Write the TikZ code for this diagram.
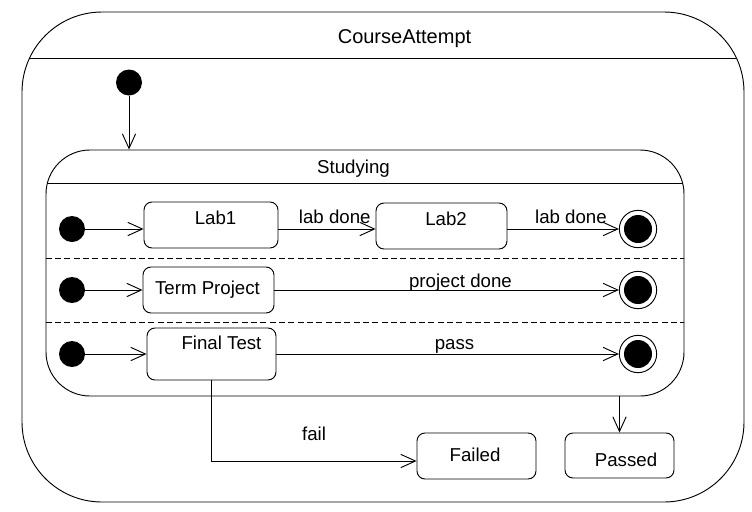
\documentclass[tikz,border=0pt]{standalone}
\usepackage{fontspec}
\setmainfont{Liberation Sans}
\usetikzlibrary{arrows.meta}

\tikzset{
    statebox/.style={draw,rounded corners=6pt,inner sep=0pt},
    initstate/.style={circle,fill=black,inner sep=0pt,minimum size=19.5pt},
    finalstate/.style={circle,draw,inner sep=0pt,minimum size=28pt,
        path picture={\fill (path picture bounding box.center) circle (10.5pt);}},
    translabel/.style={anchor=base,yshift=4.5pt}
}

\begin{document}
\begin{tikzpicture}[x=0.75pt,y=-0.75pt,line width=0.7pt,
        every node/.style={font=\fontsize{14}{16}\selectfont},
        >={Straight Barb[length=11pt,width=10pt]}]
    \useasboundingbox (0,0) rectangle (752,511);
    % composite states
    \node (course) [draw,rounded corners=60pt,minimum width=541.5pt,minimum height=367.5pt] at (383,257) {};
    \node (studying) [draw,rounded corners=33pt,minimum width=478.5pt,minimum height=184.5pt] at (365,273) {};
    \node (coursename) [anchor=base,font=\fontsize{15}{18}\selectfont] at (404.5,43) {CourseAttempt};
    \node (studyname) [anchor=base] at (353.5,173) {Studying};
    \draw (29.6,58) -- (736.4,58);
    \draw (47.4,183) -- (682.6,183);
    \draw [dash pattern=on 4.5pt off 2.5pt] (studying.west |- 0,258) -- (studying.east |- 0,258);
    \draw [dash pattern=on 4.5pt off 2.5pt] (studying.west |- 0,322) -- (studying.east |- 0,322);
    \begin{scope}[every node/.append style={initstate}]
        \node (start) at (129,82.5) {};
        \node (init1) at (72,229) {};
        \node (init2) at (72,290) {};
        \node (init3) at (72,354) {};
    \end{scope}
    \begin{scope}[every node/.append style={finalstate}]
        \node (final1) at (638,229) {};
        \node (final2) at (638,290) {};
        \node (final3) at (638,354) {};
    \end{scope}
    \node (lab1) [statebox,minimum width=100.5pt,minimum height=34.5pt,
        label={[xshift=3.4pt,yshift=5.1pt]center:Lab1}] at (211,225) {};
    \node (lab2) [statebox,minimum width=98.25pt,minimum height=34.5pt,
        label={[xshift=3.4pt,yshift=5.1pt]center:Lab2}] at (441.5,226) {};
    \node (term) [statebox,minimum width=98.25pt,minimum height=34.5pt,
        label={[xshift=-0.75pt]center:Term Project}] at (208.5,290) {};
    \node (finaltest) [statebox,minimum width=96.75pt,minimum height=39pt,
        label={[xshift=7.5pt,yshift=8.1pt]center:Final Test}] at (211.5,354) {};
    \node (failed) [statebox,minimum width=89.25pt,minimum height=34.5pt,
        label={[xshift=-1.1pt,yshift=0.6pt]center:Failed}] at (476.5,456) {};
    \node (passed) [statebox,minimum width=81.75pt,minimum height=33.75pt,
        label={[xshift=4.9pt,yshift=-3.5pt]center:Passed}] at (619.5,455.5) {};
    % transitions
    \begin{scope}[every edge/.style={draw,->}]
        \path
            (start) edge (start |- studying.north)
            (init1) edge (init1 -| lab1.west)
            (lab1.east |- init1) edge node [translabel,pos=0.58] {lab done} (lab2.west |- init1)
            (lab2.east |- init1) edge node [translabel,pos=0.57] {lab done} (final1)
            (init2) edge (term)
            (term) edge node [translabel,pos=0.54,yshift=-2.25pt] {project done} (final2)
            (init3) edge (finaltest)
            (finaltest) edge node [translabel,pos=0.52,yshift=-0.75pt] {pass} (final3)
            (passed |- studying.south) edge (passed);
        \draw [->] (finaltest.south) |- node [pos=0.75,anchor=base,yshift=15.75pt] {fail} ([yshift=-3.75pt]failed.west);
    \end{scope}
\end{tikzpicture}
\end{document}
